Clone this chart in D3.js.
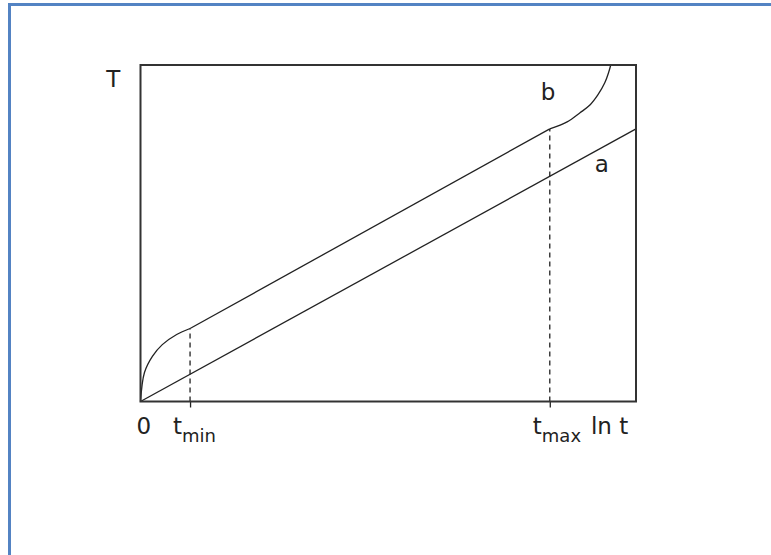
<!DOCTYPE html>
<html>
<head>
<meta charset="utf-8">
<script src="https://cdn.jsdelivr.net/npm/d3@7"></script>
<style>
  body { margin: 0; background: #fff; }
  text { font-family: "DejaVu Sans", sans-serif; fill: #222; }
</style>
</head>
<body>
<svg id="chart" width="771" height="555"></svg>
<script>
// curve a: straight line in ln t
var lineA = [[0, 0], [10, 8.1]];
// curve b: rises fast, straight between tmin and tmax, then shoots up
var lineB = [[0, 0], [0.08, 0.86], [0.24, 1.34], [0.44, 1.69], [0.73, 1.99], [1.0, 2.17],
             [8.26, 8.10], [8.61, 8.31], [8.87, 8.58], [9.07, 8.81], [9.23, 9.11],
             [9.37, 9.47], [9.45, 9.79], [9.49, 10.0]];
var marks = [{sub: "min", at: 1.0, top: 2.17}, {sub: "max", at: 8.26, top: 8.10}];
var labels = [
  {text: "T", x: -0.69, y: 9.35},
  {text: "b", x: 8.08, y: 8.96},
  {text: "a", x: 9.17, y: 6.82},
  {text: "0", x: -0.08, y: -0.98},
  {text: "ln t", x: 9.09, y: -0.98}
];

var svg = d3.select("#chart");

// blue frame of the picture
svg.append("rect")
  .attr("x", 9.5).attr("y", 4.5)
  .attr("width", 800).attr("height", 600)
  .attr("fill", "none")
  .attr("stroke", "#5383c3")
  .attr("stroke-width", 3);

var x = d3.scaleLinear().domain([0, 10]).range([140.5, 636]);
var y = d3.scaleLinear().domain([0, 10]).range([401.5, 65]);

var g = svg.append("g");

// small ticks under the axis at tmin / tmax
var axis = d3.axisBottom(x)
  .tickValues(marks.map(function(d) { return d.at; }))
  .tickSizeInner(6).tickSizeOuter(0)
  .tickFormat("");
g.append("g")
  .attr("transform", "translate(0," + y(0) + ")")
  .call(axis)
  .call(function(s) {
    s.select(".domain").remove();
    s.selectAll(".tick line").attr("stroke", "#222").attr("stroke-width", 1.3);
  });

// dashed guides
g.selectAll(".guide")
  .data(marks)
  .enter().append("line")
  .attr("class", "guide")
  .attr("x1", function(d) { return x(d.at); })
  .attr("x2", function(d) { return x(d.at); })
  .attr("y1", y(0))
  .attr("y2", function(d) { return y(d.top); })
  .attr("stroke", "#222")
  .attr("stroke-width", 1.3)
  .attr("stroke-dasharray", "5,4");

var line = d3.line()
  .x(function(d) { return x(d[0]); })
  .y(function(d) { return y(d[1]); });
var smooth = d3.line()
  .x(function(d) { return x(d[0]); })
  .y(function(d) { return y(d[1]); })
  .curve(d3.curveCatmullRom.alpha(0.5));

g.append("path")
  .attr("d", line(lineA))
  .attr("fill", "none")
  .attr("stroke", "#222")
  .attr("stroke-width", 1.3);

// b in three pieces so the straight middle part does not bow
var pieces = [
  {pts: lineB.slice(0, 6), gen: smooth},
  {pts: lineB.slice(5, 7), gen: line},
  {pts: lineB.slice(6), gen: smooth}
];
g.selectAll(".b")
  .data(pieces)
  .enter().append("path")
  .attr("class", "b")
  .attr("d", function(d) { return d.gen(d.pts); })
  .attr("fill", "none")
  .attr("stroke", "#222")
  .attr("stroke-width", 1.3);

// plot box
g.append("rect")
  .attr("x", x(0)).attr("y", y(10))
  .attr("width", x(10) - x(0))
  .attr("height", y(0) - y(10))
  .attr("fill", "none")
  .attr("stroke", "#333")
  .attr("stroke-width", 2);

// labels
g.selectAll(".lab")
  .data(labels)
  .enter().append("text")
  .attr("class", "lab")
  .attr("x", function(d) { return x(d.x); })
  .attr("y", function(d) { return y(d.y); })
  .style("font-size", "23px")
  .text(function(d) { return d.text; });

var tl = g.selectAll(".tlab")
  .data(marks)
  .enter().append("text")
  .attr("class", "tlab")
  .attr("x", function(d) { return x(d.at) - 17; })
  .attr("y", y(-0.98))
  .style("font-size", "23px");
tl.append("tspan").text("t");
tl.append("tspan")
  .attr("dy", 8)
  .style("font-size", "18px")
  .text(function(d) { return d.sub; });
</script>
</body>
</html>
